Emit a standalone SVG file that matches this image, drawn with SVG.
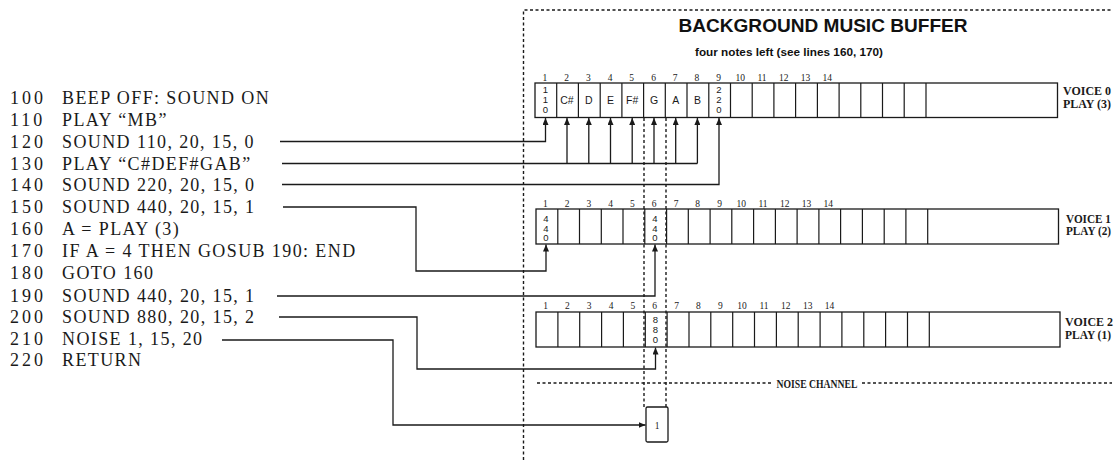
<svg xmlns="http://www.w3.org/2000/svg" width="1116" height="460" viewBox="0 0 1116 460">
<defs>
<style>
.code{font-family:"Liberation Serif",serif;font-size:18px;fill:#1a1a1a;letter-spacing:1.4px}
.num{font-family:"Liberation Serif",serif;font-size:18px;fill:#1a1a1a;letter-spacing:3px}
.box{fill:none;stroke:#1a1a1a;stroke-width:1.3}
.div{fill:none;stroke:#1a1a1a;stroke-width:1.2}
.cn{font-family:"Liberation Serif",serif;font-size:9.5px;fill:#1a1a1a;text-anchor:middle}
.cv{font-family:"Liberation Sans",sans-serif;font-size:9.5px;fill:#1a1a1a;text-anchor:middle}
.vl{font-family:"Liberation Serif",serif;font-size:11.5px;font-weight:bold;fill:#1a1a1a}
.wire{fill:none;stroke:#1a1a1a;stroke-width:1.3}
.dash{fill:none;stroke:#1a1a1a;stroke-width:1.4;stroke-dasharray:3 2.5}
</style>
<marker id="ah" markerUnits="userSpaceOnUse" markerWidth="8" markerHeight="6" refX="7" refY="3" orient="auto">
<path d="M0,0 L7,3 L0,6 z" fill="#1a1a1a"/>
</marker>
</defs>
<rect width="1116" height="460" fill="#fff"/>

<g id="frame">
<path class="dash" d="M523.5,460 V10 H1112"/>
<text x="823" y="32" text-anchor="middle" style="font-family:'Liberation Sans',sans-serif;font-size:19px;font-weight:bold;fill:#111" textLength="289" lengthAdjust="spacingAndGlyphs">BACKGROUND MUSIC BUFFER</text>
<text x="789" y="56" text-anchor="middle" style="font-family:'Liberation Sans',sans-serif;font-size:11px;font-weight:bold;fill:#111" textLength="188" lengthAdjust="spacingAndGlyphs">four notes left (see lines 160, 170)</text>
</g>

<g id="listing">
<g id="line100"><text class="num" x="10" y="104">100</text><text class="code" x="62" y="104">BEEP OFF: SOUND ON</text></g>
<g id="line110"><text class="num" x="10" y="125.5">110</text><text class="code" x="62" y="125.5">PLAY “MB”</text></g>
<g id="line120"><text class="num" x="10" y="147.5">120</text><text class="code" x="62" y="147.5">SOUND 110, 20, 15, 0</text></g>
<g id="line130"><text class="num" x="10" y="169.5">130</text><text class="code" x="62" y="169.5">PLAY “C#DEF#GAB”</text></g>
<g id="line140"><text class="num" x="10" y="191">140</text><text class="code" x="62" y="191">SOUND 220, 20, 15, 0</text></g>
<g id="line150"><text class="num" x="10" y="213">150</text><text class="code" x="62" y="213">SOUND 440, 20, 15, 1</text></g>
<g id="line160"><text class="num" x="10" y="235">160</text><text class="code" x="62" y="235">A = PLAY (3)</text></g>
<g id="line170"><text class="num" x="10" y="257">170</text><text class="code" x="62" y="257">IF A = 4 THEN GOSUB 190: END</text></g>
<g id="line180"><text class="num" x="10" y="279">180</text><text class="code" x="62" y="279">GOTO 160</text></g>
<g id="line190"><text class="num" x="10" y="301.5">190</text><text class="code" x="62" y="301.5">SOUND 440, 20, 15, 1</text></g>
<g id="line200"><text class="num" x="10" y="323">200</text><text class="code" x="62" y="323">SOUND 880, 20, 15, 2</text></g>
<g id="line210"><text class="num" x="10" y="345">210</text><text class="code" x="62" y="345">NOISE 1, 15, 20</text></g>
<g id="line220"><text class="num" x="10" y="366">220</text><text class="code" x="62" y="366">RETURN</text></g>
</g>

<g id="voice0">
<rect class="box" x="535" y="83" width="522.5" height="34.5"/>
<path class="div" d="M556.7,83V117.5M578.4,83V117.5M600.2,83V117.5M621.9,83V117.5M643.6,83V117.5M665.3,83V117.5M687,83V117.5M708.8,83V117.5M730.5,83V117.5M752.2,83V117.5M773.9,83V117.5M795.6,83V117.5M817.4,83V117.5M839.1,83V117.5M860.8,83V117.5M882.5,83V117.5M904.2,83V117.5M926,83V117.5"/>
<g class="cn">
<text x="544.9" y="81">1</text><text x="566.6" y="81">2</text><text x="588.3" y="81">3</text><text x="610" y="81">4</text><text x="631.7" y="81">5</text><text x="653.5" y="81">6</text><text x="675.2" y="81">7</text><text x="696.9" y="81">8</text><text x="718.6" y="81">9</text><text x="740.3" y="81">10</text><text x="762" y="81">11</text><text x="783.8" y="81">12</text><text x="805.5" y="81">13</text><text x="827.2" y="81">14</text>
</g>
<g class="cv">
<text x="545.5" y="93">1</text><text x="545.5" y="103">1</text><text x="545.5" y="113">0</text>
<text x="567" y="104" style="font-size:10.5px">C#</text><text x="588.8" y="104" style="font-size:10.5px">D</text><text x="610.5" y="104" style="font-size:10.5px">E</text><text x="632.2" y="104" style="font-size:10.5px">F#</text><text x="654" y="104" style="font-size:10.5px">G</text><text x="675.7" y="104" style="font-size:10.5px">A</text><text x="697.4" y="104" style="font-size:10.5px">B</text>
<text x="719" y="93">2</text><text x="719" y="103">2</text><text x="719" y="113">0</text>
</g>
<text class="vl" x="1063" y="95" textLength="48" lengthAdjust="spacingAndGlyphs">VOICE 0</text>
<text class="vl" x="1063" y="107.5" textLength="48" lengthAdjust="spacingAndGlyphs">PLAY (3)</text>
</g>

<g id="voice1">
<rect class="box" x="536" y="209" width="522.5" height="35"/>
<path class="div" d="M557.8,209V244M579.5,209V244M601.3,209V244M623,209V244M644.8,209V244M666.6,209V244M688.3,209V244M710.1,209V244M731.8,209V244M753.6,209V244M775.4,209V244M797.1,209V244M818.9,209V244M840.6,209V244M862.4,209V244M884.2,209V244M905.9,209V244M927.7,209V244"/>
<g class="cn">
<text x="545.4" y="206.5">1</text><text x="567.1" y="206.5">2</text><text x="588.9" y="206.5">3</text><text x="610.7" y="206.5">4</text><text x="632.4" y="206.5">5</text><text x="654.2" y="206.5">6</text><text x="676" y="206.5">7</text><text x="697.7" y="206.5">8</text><text x="719.5" y="206.5">9</text><text x="741.3" y="206.5">10</text><text x="763" y="206.5">11</text><text x="784.8" y="206.5">12</text><text x="806.6" y="206.5">13</text><text x="828.3" y="206.5">14</text>
</g>
<g class="cv">
<text x="546" y="222">4</text><text x="546" y="231.5">4</text><text x="546" y="241">0</text>
<text x="655" y="222">4</text><text x="655" y="231.5">4</text><text x="655" y="241">0</text>
</g>
<text class="vl" x="1066" y="222.5" textLength="45" lengthAdjust="spacingAndGlyphs">VOICE 1</text>
<text class="vl" x="1066" y="235" textLength="45" lengthAdjust="spacingAndGlyphs">PLAY (2)</text>
</g>

<g id="voice2">
<rect class="box" x="536" y="312" width="524" height="35"/>
<path class="div" d="M557.9,312V347M579.7,312V347M601.6,312V347M623.4,312V347M645.3,312V347M667.1,312V347M689,312V347M710.8,312V347M732.7,312V347M754.5,312V347M776.4,312V347M798.2,312V347M820.1,312V347M841.9,312V347M863.8,312V347M885.6,312V347M907.5,312V347M929.3,312V347"/>
<g class="cn">
<text x="545.5" y="309">1</text><text x="567.3" y="309">2</text><text x="589.1" y="309">3</text><text x="611" y="309">4</text><text x="632.8" y="309">5</text><text x="654.7" y="309">6</text><text x="676.5" y="309">7</text><text x="698.4" y="309">8</text><text x="720.3" y="309">9</text><text x="742.1" y="309">10</text><text x="764" y="309">11</text><text x="785.8" y="309">12</text><text x="807.7" y="309">13</text><text x="829.5" y="309">14</text>
</g>
<g class="cv">
<text x="655.5" y="323">8</text><text x="655.5" y="333">8</text><text x="655.5" y="343">0</text>
</g>
<text class="vl" x="1065" y="326" textLength="48" lengthAdjust="spacingAndGlyphs">VOICE 2</text>
<text class="vl" x="1065" y="338.5" textLength="46" lengthAdjust="spacingAndGlyphs">PLAY (1)</text>
</g>

<g id="noise">
<path class="dash" d="M537,383 H772 M862,383 H1112"/>
<text x="817" y="387.5" text-anchor="middle" style="font-family:'Liberation Serif',serif;font-size:12.5px;font-weight:bold;fill:#1a1a1a" textLength="81" lengthAdjust="spacingAndGlyphs">NOISE CHANNEL</text>
<rect class="box" x="646" y="407" width="22" height="35" rx="1.5"/>
<text class="cn" x="657" y="429">1</text>
</g>

<g id="guides">
<path class="dash" d="M644,118 V407 M666,118 V407"/>
</g>

<g id="connectors">
<path class="wire" marker-end="url(#ah)" d="M280,141.5 H545.5 V118"/>
<path class="wire" d="M282,163.5 H697.4"/>
<path class="wire" marker-end="url(#ah)" d="M567,163.5 V118"/>
<path class="wire" marker-end="url(#ah)" d="M588.8,163.5 V118"/>
<path class="wire" marker-end="url(#ah)" d="M610.5,163.5 V118"/>
<path class="wire" marker-end="url(#ah)" d="M632.2,163.5 V118"/>
<path class="wire" marker-end="url(#ah)" d="M654,163.5 V118"/>
<path class="wire" marker-end="url(#ah)" d="M675.7,163.5 V118"/>
<path class="wire" marker-end="url(#ah)" d="M697.4,163.5 V118"/>
<path class="wire" marker-end="url(#ah)" d="M282,184.5 H719 V118"/>
<path class="wire" marker-end="url(#ah)" d="M283,207 H416 V271 H546 V244.5"/>
<path class="wire" marker-end="url(#ah)" d="M277,296 H655 V244.5"/>
<path class="wire" marker-end="url(#ah)" d="M279,317 H417 V369 H655.5 V347.5"/>
<path class="wire" marker-end="url(#ah)" d="M222,340 H393 V425 H645.5"/>
</g>
</svg>
